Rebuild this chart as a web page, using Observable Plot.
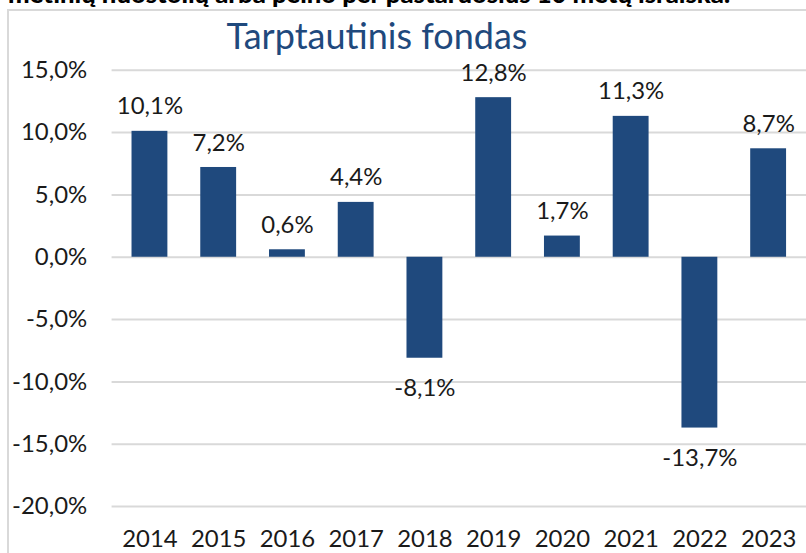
<!DOCTYPE html>
<html>
<head>
<meta charset="utf-8">
<script src="https://cdn.jsdelivr.net/npm/d3@7"></script>
<script src="https://cdn.jsdelivr.net/npm/@observablehq/plot@0.6"></script>
<style>
  html, body { margin: 0; padding: 0; background: #fff; overflow: hidden; }
  #wrap { position: relative; width: 806px; height: 553px; overflow: hidden; font-family: Lato, sans-serif; }
  #cut { position: absolute; left: 0; top: 0; }
  #frame { position: absolute; left: 7px; top: 9px; width: 900px; height: 700px; border: 2px solid #d9d9d9; box-sizing: border-box; }
  #chart { position: absolute; left: 0; top: 0; }
  #title { position: absolute; left: 0; width: 754px; text-align: center; top: 15px; font-size: 36px; line-height: 40px; color: #1f497d; white-space: nowrap; }
</style>
</head>
<body>
<div id="wrap">
  <div id="frame"></div>
  <svg id="cut" width="806" height="20"><text x="8" y="3" font-family="Lato" font-weight="900" font-size="25" textLength="722" lengthAdjust="spacingAndGlyphs" fill="#000">metinių nuostolių arba pelno per pastaruosius 10 metų išraiška.</text></svg>
  <div id="chart"></div>
  <div id="title">Tarptautinis fondas</div>
</div>
<script>
const years = ["2014", "2015", "2016", "2017", "2018", "2019", "2020", "2021", "2022", "2023"];
const returns = [10.1, 7.2, 0.6, 4.4, -8.1, 12.8, 1.7, 11.3, -13.7, 8.7];
const yTicks = [15, 10, 5, 0, -5, -10, -15, -20];

const data = years.map((y, i) => ({year: y, value: returns[i]}));
const fmt = v => v.toFixed(1).replace(".", ",") + "%";

const chart = Plot.plot({
  width: 809,
  height: 553,
  marginLeft: 112,
  marginRight: 0,
  marginTop: 70,
  marginBottom: 45,
  style: {fontFamily: "Lato, sans-serif", fontSize: "24px", color: "#1a1a1a", background: "transparent", overflow: "visible"},
  x: {domain: years, paddingInner: 0.483, paddingOuter: 0.25, align: 0.5, label: null},
  y: {domain: [-20, 15], label: null},
  marks: [
    Plot.gridY(yTicks, {stroke: "#d9d9d9", strokeOpacity: 1, strokeWidth: 2}),
    Plot.barY(data, {x: "year", y: "value", fill: "#1f497d"}),
    Plot.axisY(yTicks, {tickSize: 0, tickPadding: 25, tickFormat: fmt, label: null, fill: "#1a1a1a"}),
    Plot.axisX({tickSize: 0, tickPadding: 23, label: null, fill: "#1a1a1a"}),
    Plot.text(data.filter(d => d.value >= 0), {x: "year", y: "value", text: d => fmt(d.value), lineAnchor: "bottom", dy: -17, fill: "#1a1a1a"}),
    Plot.text(data.filter(d => d.value < 0), {x: "year", y: "value", text: d => fmt(d.value), lineAnchor: "top", dy: 21, fill: "#1a1a1a"})
  ]
});
document.getElementById("chart").appendChild(chart);
</script>
</body>
</html>
